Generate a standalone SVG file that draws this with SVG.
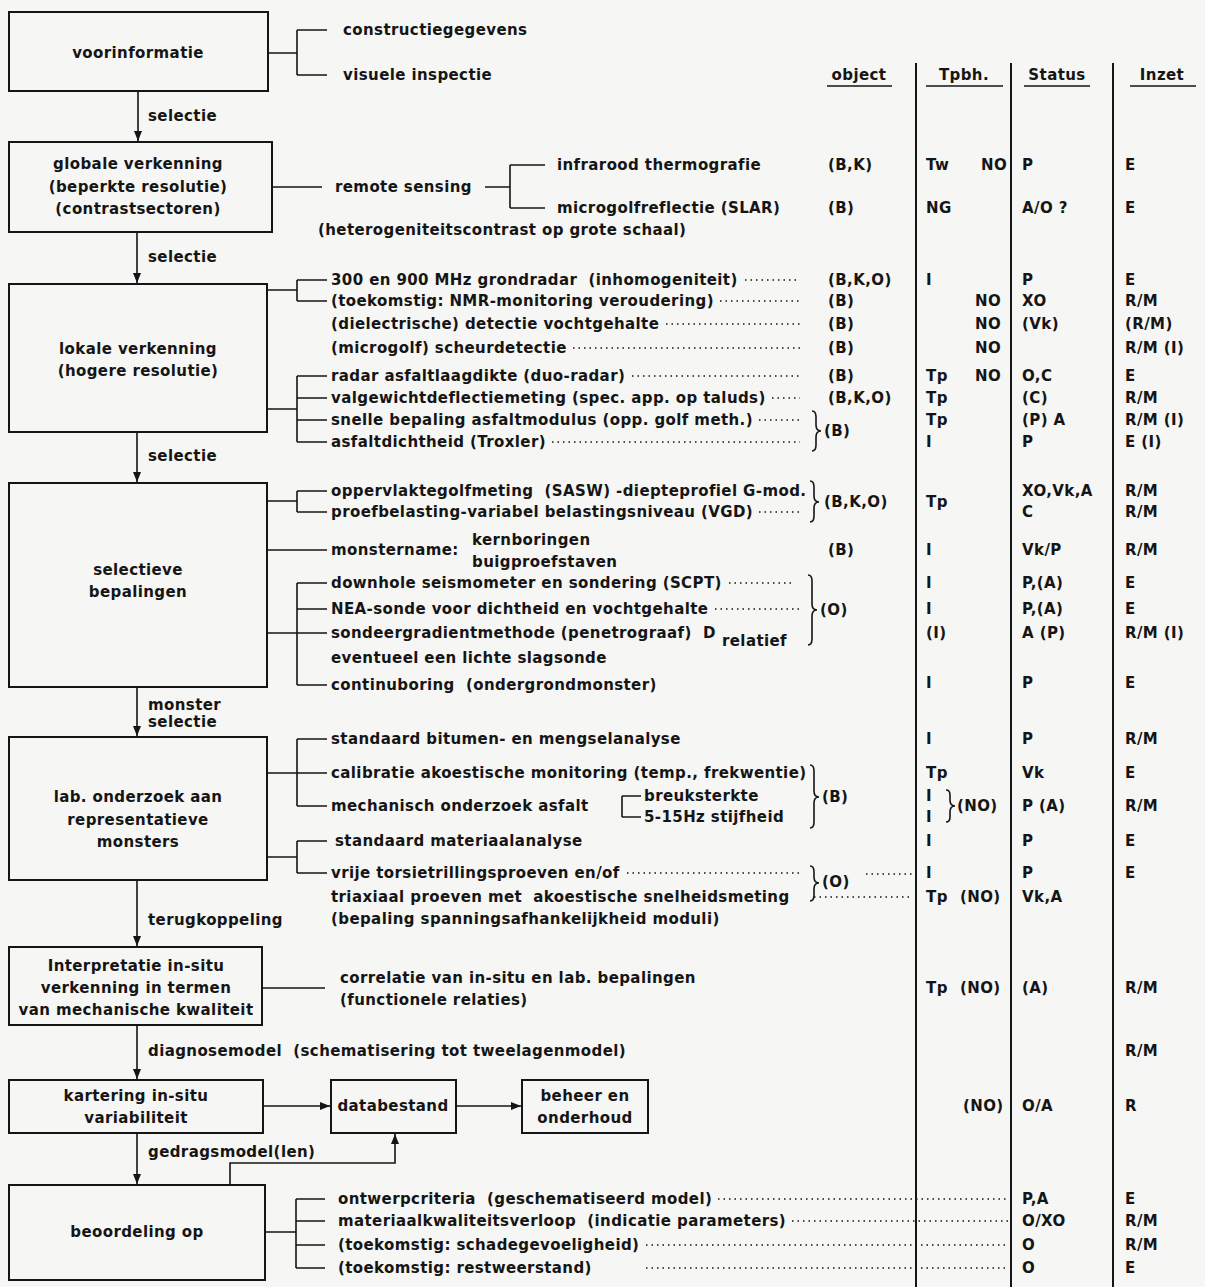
<svg xmlns="http://www.w3.org/2000/svg" width="1205" height="1287" viewBox="0 0 1205 1287">
<style>
.t{font-family:"DejaVu Sans",sans-serif;font-weight:bold;font-size:15px;letter-spacing:0.4px;fill:#151515;dominant-baseline:central;white-space:pre}
.m{text-anchor:middle}
.box{fill:none;stroke:#151515;stroke-width:2}
.ln{stroke:#151515;stroke-width:1.6;fill:none}
.col{stroke:#151515;stroke-width:2;fill:none}
.dot{stroke:#151515;stroke-width:1.4;stroke-dasharray:1.5 4;fill:none}
.arr{stroke:#151515;stroke-width:1.6;fill:none;marker-end:url(#ah)}
</style>
<defs>
<marker id="ah" markerWidth="10" markerHeight="10" refX="10" refY="5" orient="auto" markerUnits="userSpaceOnUse"><path d="M0,1 L10,5 L0,9 z" fill="#151515"/></marker>
</defs>
<rect width="1205" height="1287" fill="#f6f6f4"/>

<g id="n-voorinformatie"><rect class="box" x="9" y="12" width="259" height="79"/><text class="t m" x="138" y="53">voorinformatie</text></g>
<g id="n-globale"><rect class="box" x="9" y="142" width="263" height="90"/><text class="t m" x="138" y="164">globale verkenning</text><text class="t m" x="138" y="187">(beperkte resolutie)</text><text class="t m" x="138" y="209">(contrastsectoren)</text></g>
<g id="n-lokale"><rect class="box" x="9" y="284" width="258" height="148"/><text class="t m" x="138" y="349">lokale verkenning</text><text class="t m" x="138" y="371">(hogere resolutie)</text></g>
<g id="n-selectieve"><rect class="box" x="9" y="483" width="258" height="204"/><text class="t m" x="138" y="570">selectieve</text><text class="t m" x="138" y="592">bepalingen</text></g>
<g id="n-lab"><rect class="box" x="9" y="737" width="258" height="143"/><text class="t m" x="138" y="797">lab. onderzoek aan</text><text class="t m" x="138" y="820">representatieve</text><text class="t m" x="138" y="842">monsters</text></g>
<g id="n-interpretatie"><rect class="box" x="9" y="947" width="253" height="78"/><text class="t m" x="136" y="966">Interpretatie in-situ</text><text class="t m" x="136" y="988">verkenning in termen</text><text class="t m" x="136" y="1010">van mechanische kwaliteit</text></g>
<g id="n-kartering"><rect class="box" x="9" y="1080" width="254" height="53"/><text class="t m" x="136" y="1096">kartering in-situ</text><text class="t m" x="136" y="1118">variabiliteit</text></g>
<g id="n-databestand"><rect class="box" x="331" y="1080" width="125" height="53"/><text class="t m" x="393" y="1106">databestand</text></g>
<g id="n-beheer"><rect class="box" x="522" y="1080" width="126" height="53"/><text class="t m" x="585" y="1096">beheer en</text><text class="t m" x="585" y="1118">onderhoud</text></g>
<g id="n-beoordeling"><rect class="box" x="9" y="1185" width="256" height="95"/><text class="t m" x="137" y="1232">beoordeling op</text></g>

<g id="connectors">
<path class="arr" d="M138,91 V141"/>
<path class="arr" d="M137,232 V283"/>
<path class="arr" d="M137,432 V482"/>
<path class="arr" d="M137,687 V736"/>
<path class="arr" d="M137,880 V946"/>
<path class="arr" d="M137,1025 V1079"/>
<path class="arr" d="M137,1133 V1184"/>
<path class="arr" d="M263,1106 H330"/>
<path class="arr" d="M456,1106 H521"/>
<path class="arr" d="M230,1185 V1163 H395 V1134"/>
<path class="ln" d="M268,53 H297 M297,30 V75 M297,30 H327 M297,75 H327"/>
<path class="ln" d="M272,187 H322 M485,187 H510 M510,165 V208 M510,165 H545 M510,208 H545"/>
<path class="ln" d="M267,290 H297 M297,280 V301 M297,280 H327 M297,301 H327"/>
<path class="ln" d="M267,409 H297 M297,376 V442 M297,376 H327 M297,398 H327 M297,420 H327 M297,442 H327"/>
<path class="ln" d="M267,501 H297 M297,491 V512 M297,491 H327 M297,512 H327"/>
<path class="ln" d="M267,550 H327"/>
<path class="ln" d="M267,633 H297 M297,583 V685 M297,583 H327 M297,609 H327 M297,633 H327 M297,685 H327"/>
<path class="ln" d="M267,773 H297 M297,739 V806 M297,739 H327 M297,773 H327 M297,806 H327"/>
<path class="ln" d="M267,857 H297 M297,841 V873 M297,841 H327 M297,873 H327"/>
<path class="ln" d="M622,796 V817 M622,796 H641 M622,817 H641"/>
<path class="ln" d="M262,988 H325"/>
<path class="ln" d="M265,1232 H296 M296,1199 V1268 M296,1199 H325 M296,1221 H325 M296,1245 H325 M296,1268 H325"/>
<path class="dot" d="M745,280 H800 M720,301 H800 M666,324 H800 M573,348 H800 M632,376 H800 M772,398 H800 M759,420 H800 M552,442 H800"/>
<path class="dot" d="M759,512 H800 M729,583 H795 M715,609 H800"/>
<path class="dot" d="M627,873 H800 M866,874 H912 M814,897 H912"/>
<path class="dot" d="M718,1199 H1008 M792,1221 H1008 M646,1245 H1008 M646,1268 H1008"/>
<path class="ln" d="M812,411 q4,0 4,6 v8 q0,6 5,6 q-5,0 -5,6 v8 q0,6 -4,6"/>
<path class="ln" d="M810,481 q4,0 4,6 v9 q0,6 5,6 q-5,0 -5,6 v8 q0,6 -4,6"/>
<path class="ln" d="M808,575 q4,0 4,6 v23 q0,6 5,6 q-5,0 -5,6 v23 q0,6 -4,6"/>
<path class="ln" d="M810,765 q4,0 4,6 v20 q0,6 5,6 q-5,0 -5,6 v19 q0,6 -4,6"/>
<path class="ln" d="M810,866 q4,0 4,6 v5 q0,6 5,6 q-5,0 -5,6 v6 q0,6 -4,6"/>
<path class="ln" d="M946,790 q4,0 4,5 v5 q0,6 5,6 q-5,0 -5,6 v5 q0,5 -4,5"/>
</g>

<g id="columns">
<path class="col" d="M916,63 V1287 M1011,63 V1287 M1113,63 V1287"/>
<path class="ln" d="M827,86 H892 M926,86 H1003 M1024,86 H1090 M1130,86 H1196"/>
<text class="t m" x="859" y="75">object</text>
<text class="t m" x="964" y="75">Tpbh.</text>
<text class="t m" x="1057" y="75">Status</text>
<text class="t m" x="1162" y="75">Inzet</text>
</g>

<g id="labels">
<text class="t" x="148" y="116">selectie</text>
<text class="t" x="148" y="257">selectie</text>
<text class="t" x="148" y="456">selectie</text>
<text class="t" x="148" y="705">monster</text>
<text class="t" x="148" y="722">selectie</text>
<text class="t" x="148" y="920">terugkoppeling</text>
<text class="t" x="148" y="1051">diagnosemodel  (schematisering tot tweelagenmodel)</text>
<text class="t" x="148" y="1152">gedragsmodel(len)</text>

<text class="t" x="343" y="30">constructiegegevens</text>
<text class="t" x="343" y="75">visuele inspectie</text>
<text class="t" x="335" y="187">remote sensing</text>
<text class="t" x="557" y="165">infrarood thermografie</text>
<text class="t" x="557" y="208">microgolfreflectie (SLAR)</text>
<text class="t" x="318" y="230">(heterogeniteitscontrast op grote schaal)</text>

<text class="t" x="331" y="280">300 en 900 MHz grondradar  (inhomogeniteit)</text>
<text class="t" x="331" y="301">(toekomstig: NMR-monitoring veroudering)</text>
<text class="t" x="331" y="324">(dielectrische) detectie vochtgehalte</text>
<text class="t" x="331" y="348">(microgolf) scheurdetectie</text>
<text class="t" x="331" y="376">radar asfaltlaagdikte (duo-radar)</text>
<text class="t" x="331" y="398">valgewichtdeflectiemeting (spec. app. op taluds)</text>
<text class="t" x="331" y="420">snelle bepaling asfaltmodulus (opp. golf meth.)</text>
<text class="t" x="331" y="442">asfaltdichtheid (Troxler)</text>

<text class="t" x="331" y="491">oppervlaktegolfmeting  (SASW) -diepteprofiel G-mod.</text>
<text class="t" x="331" y="512">proefbelasting-variabel belastingsniveau (VGD)</text>
<text class="t" x="331" y="550">monstername:</text>
<text class="t" x="472" y="540">kernboringen</text>
<text class="t" x="472" y="562">buigproefstaven</text>
<text class="t" x="331" y="583">downhole seismometer en sondering (SCPT)</text>
<text class="t" x="331" y="609">NEA-sonde voor dichtheid en vochtgehalte</text>
<text class="t" x="331" y="633">sondeergradientmethode (penetrograaf)  D</text>
<text class="t" x="722" y="641">relatief</text>
<text class="t" x="331" y="658">eventueel een lichte slagsonde</text>
<text class="t" x="331" y="685">continuboring  (ondergrondmonster)</text>

<text class="t" x="331" y="739">standaard bitumen- en mengselanalyse</text>
<text class="t" x="331" y="773">calibratie akoestische monitoring (temp., frekwentie)</text>
<text class="t" x="331" y="806">mechanisch onderzoek asfalt</text>
<text class="t" x="644" y="796">breuksterkte</text>
<text class="t" x="644" y="817">5-15Hz stijfheid</text>
<text class="t" x="335" y="841">standaard materiaalanalyse</text>
<text class="t" x="331" y="873">vrije torsietrillingsproeven en/of</text>
<text class="t" x="331" y="897">triaxiaal proeven met  akoestische snelheidsmeting</text>
<text class="t" x="331" y="919">(bepaling spanningsafhankelijkheid moduli)</text>

<text class="t" x="340" y="978">correlatie van in-situ en lab. bepalingen</text>
<text class="t" x="340" y="1000">(functionele relaties)</text>

<text class="t" x="338" y="1199">ontwerpcriteria  (geschematiseerd model)</text>
<text class="t" x="338" y="1221">materiaalkwaliteitsverloop  (indicatie parameters)</text>
<text class="t" x="338" y="1245">(toekomstig: schadegevoeligheid)</text>
<text class="t" x="338" y="1268">(toekomstig: restweerstand)</text>
</g>

<g id="table">
<text class="t" x="828" y="165">(B,K)</text><text class="t" x="926" y="165">Tw</text><text class="t" x="981" y="165">NO</text><text class="t" x="1022" y="165">P</text><text class="t" x="1125" y="165">E</text>
<text class="t" x="828" y="208">(B)</text><text class="t" x="926" y="208">NG</text><text class="t" x="1022" y="208">A/O ?</text><text class="t" x="1125" y="208">E</text>
<text class="t" x="828" y="280">(B,K,O)</text><text class="t" x="926" y="280">I</text><text class="t" x="1022" y="280">P</text><text class="t" x="1125" y="280">E</text>
<text class="t" x="828" y="301">(B)</text><text class="t" x="975" y="301">NO</text><text class="t" x="1022" y="301">XO</text><text class="t" x="1125" y="301">R/M</text>
<text class="t" x="828" y="324">(B)</text><text class="t" x="975" y="324">NO</text><text class="t" x="1022" y="324">(Vk)</text><text class="t" x="1125" y="324">(R/M)</text>
<text class="t" x="828" y="348">(B)</text><text class="t" x="975" y="348">NO</text><text class="t" x="1125" y="348">R/M (I)</text>
<text class="t" x="828" y="376">(B)</text><text class="t" x="926" y="376">Tp</text><text class="t" x="975" y="376">NO</text><text class="t" x="1022" y="376">O,C</text><text class="t" x="1125" y="376">E</text>
<text class="t" x="828" y="398">(B,K,O)</text><text class="t" x="926" y="398">Tp</text><text class="t" x="1022" y="398">(C)</text><text class="t" x="1125" y="398">R/M</text>
<text class="t" x="926" y="420">Tp</text><text class="t" x="1022" y="420">(P) A</text><text class="t" x="1125" y="420">R/M (I)</text>
<text class="t" x="824" y="431">(B)</text>
<text class="t" x="926" y="442">I</text><text class="t" x="1022" y="442">P</text><text class="t" x="1125" y="442">E (I)</text>

<text class="t" x="824" y="502">(B,K,O)</text><text class="t" x="926" y="502">Tp</text>
<text class="t" x="1022" y="491">XO,Vk,A</text><text class="t" x="1125" y="491">R/M</text>
<text class="t" x="1022" y="512">C</text><text class="t" x="1125" y="512">R/M</text>
<text class="t" x="828" y="550">(B)</text><text class="t" x="926" y="550">I</text><text class="t" x="1022" y="550">Vk/P</text><text class="t" x="1125" y="550">R/M</text>
<text class="t" x="926" y="583">I</text><text class="t" x="1022" y="583">P,(A)</text><text class="t" x="1125" y="583">E</text>
<text class="t" x="820" y="610">(O)</text>
<text class="t" x="926" y="609">I</text><text class="t" x="1022" y="609">P,(A)</text><text class="t" x="1125" y="609">E</text>
<text class="t" x="926" y="633">(I)</text><text class="t" x="1022" y="633">A (P)</text><text class="t" x="1125" y="633">R/M (I)</text>
<text class="t" x="926" y="683">I</text><text class="t" x="1022" y="683">P</text><text class="t" x="1125" y="683">E</text>

<text class="t" x="926" y="739">I</text><text class="t" x="1022" y="739">P</text><text class="t" x="1125" y="739">R/M</text>
<text class="t" x="926" y="773">Tp</text><text class="t" x="1022" y="773">Vk</text><text class="t" x="1125" y="773">E</text>
<text class="t" x="822" y="797">(B)</text>
<text class="t" x="926" y="796">I</text><text class="t" x="926" y="817">I</text><text class="t" x="957" y="806">(NO)</text><text class="t" x="1022" y="806">P (A)</text><text class="t" x="1125" y="806">R/M</text>
<text class="t" x="926" y="841">I</text><text class="t" x="1022" y="841">P</text><text class="t" x="1125" y="841">E</text>
<text class="t" x="822" y="882">(O)</text>
<text class="t" x="926" y="873">I</text><text class="t" x="1022" y="873">P</text><text class="t" x="1125" y="873">E</text>
<text class="t" x="926" y="897">Tp</text><text class="t" x="960" y="897">(NO)</text><text class="t" x="1022" y="897">Vk,A</text>

<text class="t" x="926" y="988">Tp</text><text class="t" x="960" y="988">(NO)</text><text class="t" x="1022" y="988">(A)</text><text class="t" x="1125" y="988">R/M</text>
<text class="t" x="1125" y="1051">R/M</text>
<text class="t" x="963" y="1106">(NO)</text><text class="t" x="1022" y="1106">O/A</text><text class="t" x="1125" y="1106">R</text>
<text class="t" x="1022" y="1199">P,A</text><text class="t" x="1125" y="1199">E</text>
<text class="t" x="1022" y="1221">O/XO</text><text class="t" x="1125" y="1221">R/M</text>
<text class="t" x="1022" y="1245">O</text><text class="t" x="1125" y="1245">R/M</text>
<text class="t" x="1022" y="1268">O</text><text class="t" x="1125" y="1268">E</text>
</g>
</svg>
